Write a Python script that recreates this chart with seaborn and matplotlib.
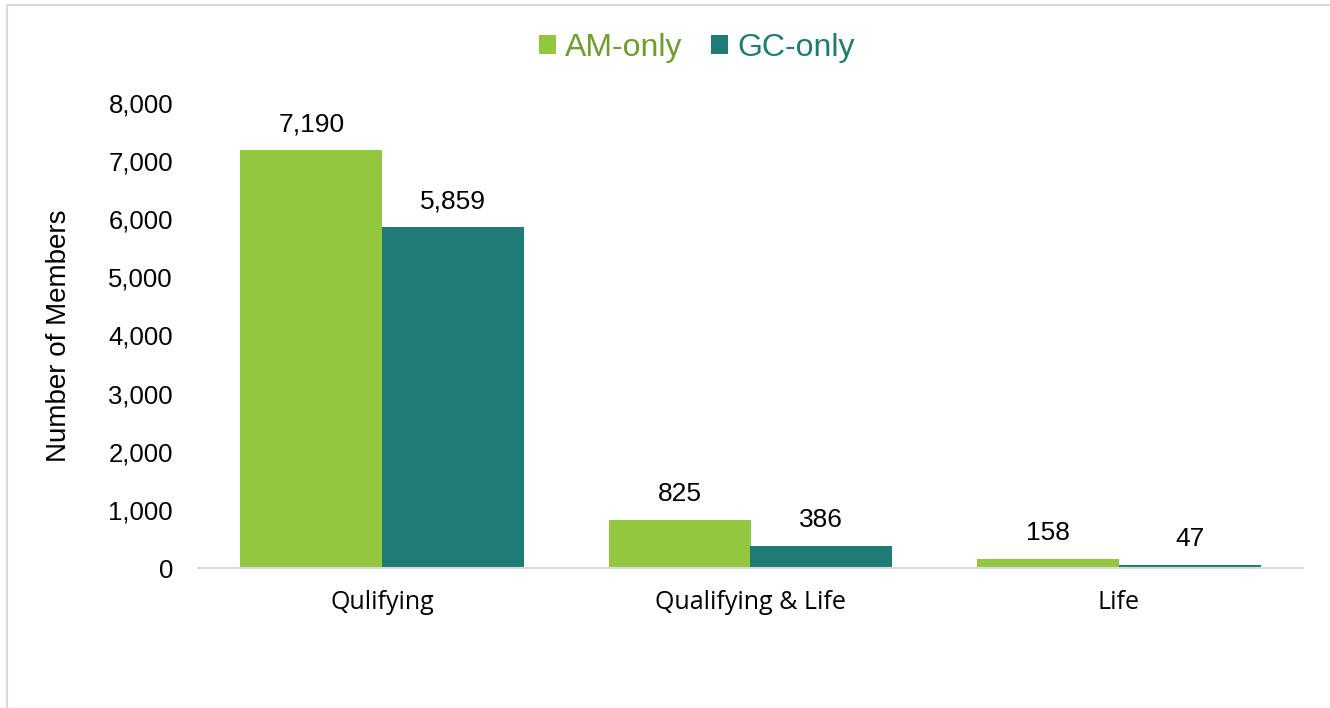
import matplotlib
matplotlib.use("Agg")
import matplotlib.pyplot as plt
import seaborn as sns
import pandas as pd
from matplotlib.patches import Rectangle, Patch
from matplotlib.ticker import FuncFormatter

categories = ["Qulifying", "Qualifying & Life", "Life"]
series = ["AM-only", "GC-only"]
am_only = [7190, 825, 158]
gc_only = [5859, 386, 47]
y_ticks = [0, 1000, 2000, 3000, 4000, 5000, 6000, 7000, 8000]

colors = {"AM-only": "#92c73f", "GC-only": "#1f7b74"}
legend_text_colors = {"AM-only": "#6f9d2e", "GC-only": "#1f7b74"}

df = pd.DataFrame({
    "category": categories * 2,
    "series": [series[0]] * 3 + [series[1]] * 3,
    "members": am_only + gc_only,
})

sns.set_theme(style="white")
plt.rcParams["font.family"] = ["Liberation Sans", "DejaVu Sans"]

fig = plt.figure(figsize=(13.3, 7.08), dpi=100)
ax = fig.add_axes([198 / 1330, 1 - 568 / 708, (1303 - 198) / 1330, (568 - 103) / 708])

sns.barplot(data=df, x="category", y="members", hue="series", order=categories,
            hue_order=series, palette=colors, width=0.77, saturation=1,
            linewidth=0, ax=ax, legend=False)

ax.set_xlim(-0.5, 2.5)
ax.set_ylim(0, 8000)
ax.set_yticks(y_ticks)
ax.yaxis.set_major_formatter(FuncFormatter(lambda v, p: f"{int(v):,}"))
ax.tick_params(axis="y", labelsize=18.5, length=0, pad=18, colors="#000000")
ax.tick_params(axis="x", length=0, pad=16)
for lbl in ax.get_xticklabels():
    lbl.set_fontfamily(["Open Sans", "DejaVu Sans"])
    lbl.set_fontsize(18)
    lbl.set_color("#000000")

ax.set_xlabel("")
ax.set_ylabel("Number of Members", fontsize=20, color="#000000", labelpad=26)

for side in ["top", "right", "left"]:
    ax.spines[side].set_visible(False)
ax.spines["bottom"].set_color("#d9d9d9")
ax.spines["bottom"].set_linewidth(1.5)

for container in ax.containers:
    ax.bar_label(container, labels=[f"{int(v):,}" for v in container.datavalues],
                 padding=10, fontsize=19, color="#000000")

# legend above the plot
handles = [Patch(facecolor=colors[s], edgecolor="none") for s in series]
leg = fig.legend(handles, series, loc="center", bbox_to_anchor=(697 / 1330, 1 - 48 / 708),
                 ncol=2, frameon=False, fontsize=23, handlelength=0.52, handleheight=0.52,
                 handletextpad=0.3, columnspacing=0.9)
for text, s in zip(leg.get_texts(), series):
    text.set_color(legend_text_colors[s])

# chart area border
fig.add_artist(Rectangle((7 / 1330, -0.1), 1.2, 1.1 - 5 / 708, transform=fig.transFigure,
                         fill=False, edgecolor="#d9d9d9", linewidth=1.5))

fig.savefig("out.png", dpi=100, facecolor="white")
